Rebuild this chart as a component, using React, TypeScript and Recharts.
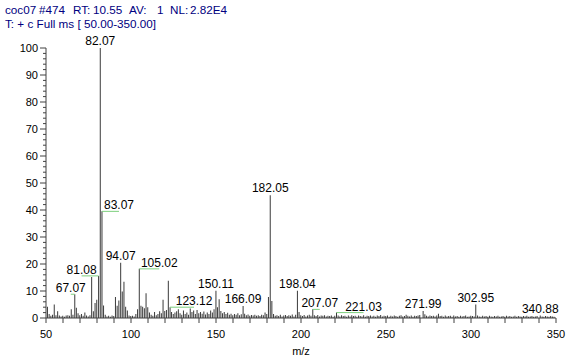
import { BarChart, Bar, XAxis, YAxis, LabelList } from 'recharts';

// header lines of the scan
const headerParts = [
  { text: 'coc07', x: 5 },
  { text: '#474', x: 39 },
  { text: 'RT:', x: 73 },
  { text: '10.55', x: 93 },
  { text: 'AV:', x: 129 },
  { text: '1', x: 157 },
  { text: 'NL:', x: 170 },
  { text: '2.82E4', x: 190 },
];
const scanFilter = 'T: + c Full ms [ 50.00-350.00]';

// [m/z, relative abundance %]
const sticksLow: [number, number][] = [
  [51, 4.2], [52, 1.5], [53, 0.8], [54, 1.2], [55, 5.0], [56, 1.0], [57, 2.5], [58, 0.9], [59, 0.6],
  [60, 0.8], [61, 0.5], [62, 0.9], [63, 1.0], [64, 0.8], [65, 3.2], [66, 1.2], [67.07, 8.8], [68, 3.8],
  [69, 1.8], [70, 1.0], [71, 1.5], [72, 0.8], [73, 2.0], [74, 0.9], [75, 0.6], [76, 1.0], [77, 15.2],
  [78, 2.5], [79, 5.6], [80, 6.8], [81.08, 15.6], [82.07, 100], [83.07, 39.5], [84, 4.6], [85, 1.2],
  [86, 0.6], [87, 0.8], [88, 0.5], [89, 0.9], [90, 0.7], [91, 7.8], [92, 4.5], [93, 6.5], [94.07, 20.5],
  [95, 9.8], [96, 13.4], [97, 4.2], [98, 2.8], [99, 0.9],
];

const sticksMid: [number, number][] = [
  [100, 0.7], [101, 0.8], [102, 0.6], [103, 1.5], [104, 3.2], [105.02, 18.2], [106, 4.5], [107, 4.2],
  [108, 3.6], [109, 9.2], [110, 4.0], [111, 2.0], [112, 1.2], [113, 0.8], [114, 2.2], [115, 1.0],
  [116, 1.5], [117, 2.5], [118, 1.8], [119, 6.8], [120, 2.6], [121, 3.0], [122.1, 13.8], [123.12, 4.0],
  [124, 2.2], [125, 1.5], [126, 2.0], [127, 2.5], [128, 3.2], [129, 1.8], [130, 1.2], [131, 2.8],
  [132, 1.5], [133, 2.0], [134, 1.2], [135, 3.5], [136, 2.2], [137, 2.8], [138, 1.5], [139, 3.0],
  [140, 1.8], [141, 2.2], [142, 1.6], [143, 2.4], [144, 1.3], [145, 2.0], [146, 1.5], [147, 2.8],
  [148, 2.0], [149, 3.2], [150.11, 10.1], [151, 4.0], [152, 6.9], [153, 2.6], [154, 1.8], [155, 2.2],
  [156, 1.5], [157, 1.9], [158, 1.2], [159, 1.6], [160, 1.0], [161, 1.5], [162, 1.2], [163, 1.8],
  [164, 1.0], [165, 1.4], [166.09, 4.4], [167, 1.6], [168, 1.0], [169, 1.3], [170, 0.8], [171, 1.1],
  [172, 0.9], [173, 1.2], [174, 0.8], [175, 1.0], [176, 0.7], [177, 1.2], [178, 1.0], [179, 2.0],
  [180, 1.5],
];

const sticksHigh: [number, number][] = [
  [181, 7.8], [182.05, 45.5], [183, 6.3], [184, 1.5], [185, 0.8], [186, 1.0], [187, 0.7], [188, 1.2],
  [189, 0.6], [190, 0.9], [191, 1.1], [192, 0.7], [193, 1.0], [194, 0.8], [195, 1.3], [196, 0.6],
  [197, 1.2], [198.04, 10.1], [199, 2.2], [200, 1.0], [201, 0.7], [202, 1.1], [203, 0.6], [204, 0.9],
  [205, 1.2], [206, 0.8], [207.07, 3.2], [208, 1.0], [209, 0.7], [210, 1.1], [211, 0.6], [212, 0.9],
  [213, 0.8], [214, 1.0], [215, 0.6], [216, 0.8], [217, 0.7], [218, 0.9], [219, 0.5], [220, 0.8],
  [221.03, 2.0], [222, 0.9], [223, 0.6], [224, 1.0], [225, 0.7], [226, 0.8], [227, 0.5], [228, 0.9],
  [229, 0.6], [230, 1.0], [231, 0.7], [232, 0.8], [233, 0.5], [234, 0.9], [235, 0.7], [236, 0.6],
  [237, 1.0], [238, 0.5], [239, 0.8], [240, 0.7], [241, 0.9], [242, 0.6], [243, 0.8], [244, 0.5],
  [245, 0.9], [246, 0.7], [247, 1.1], [248, 0.6], [249, 0.8], [250, 0.7], [251, 0.9], [252, 0.5],
  [253, 0.8], [254, 0.6], [255, 0.9], [256, 0.7], [257, 0.5], [258, 0.8], [259, 1.0], [260, 0.6],
  [261, 0.7], [262, 1.2], [263, 0.8], [264, 0.6], [265, 0.9], [266, 0.5], [267, 0.8], [268, 0.7],
  [269, 0.9], [270, 1.1], [271.99, 2.6], [273, 1.4], [274, 0.8], [275, 0.6], [276, 0.9], [277, 0.7],
  [278, 0.8], [279, 0.6], [280, 0.9], [281, 1.6], [282, 0.7], [283, 0.8], [284, 0.5], [285, 0.9],
  [286, 0.6], [287, 0.7], [288, 0.8], [289, 0.5], [290, 0.9], [291, 0.6], [292, 0.7], [293, 0.5],
  [294, 0.8], [295, 0.6], [296, 0.7], [297, 0.9], [298, 0.5], [299, 0.6], [300, 0.8], [301, 0.7],
  [302, 0.6], [302.95, 5.0], [304, 0.9], [305, 0.6], [306, 0.5], [307, 0.8], [308, 0.6], [309, 0.7],
  [310, 0.5], [311, 0.8], [312, 0.6], [313, 0.5], [314, 0.7], [315, 0.6], [316, 0.8], [317, 0.5],
  [318, 0.6], [319, 0.7], [320, 0.5], [321, 0.8], [322, 0.6], [323, 0.7], [324, 0.5], [325, 0.6],
  [326, 0.8], [327, 0.5], [328, 0.7], [329, 0.6], [330, 0.5], [331, 0.7], [332, 0.6], [333, 0.8],
  [334, 0.5], [335, 0.6], [336, 0.7], [337, 0.5], [338, 0.6], [339, 0.7], [340.88, 0.9], [342, 0.6],
  [343, 0.5], [344, 0.7], [345, 0.6], [346, 0.5], [347, 0.7], [348, 0.6], [349, 0.5],
];

const labeledMasses = [
  67.07, 81.08, 82.07, 83.07, 94.07, 105.02, 123.12, 150.11, 166.09, 182.05, 198.04, 207.07, 221.03,
  271.99, 302.95, 340.88,
];

const xTicks = [
  50, 60, 70, 80, 90, 100, 110, 120, 130, 140, 150, 160, 170, 180, 190, 200, 210, 220, 230, 240, 250,
  260, 270, 280, 290, 300, 310, 320, 330, 340, 350,
];
const xTickLabels = [50, 100, 150, 200, 250, 300, 350];
const yTicks = [
  0, 2, 4, 6, 8, 10, 12, 14, 16, 18, 20, 22, 24, 26, 28, 30, 32, 34, 36, 38, 40, 42, 44, 46, 48, 50,
  52, 54, 56, 58, 60, 62, 64, 66, 68, 70, 72, 74, 76, 78, 80, 82, 84, 86, 88, 90, 92, 94, 96, 98, 100,
];

const rows = [...sticksLow, ...sticksMid, ...sticksHigh].map(([mz, rel]) => ({
  mz,
  rel,
  tag: labeledMasses.includes(mz) ? mz.toFixed(2) : undefined,
}));

// labels pushed sideways get a green leader line back to the peak
const tagShift: Record<string, number> = {
  '67.07': -4,
  '81.08': -17,
  '83.07': 17,
  '105.02': 20,
  '123.12': 24,
  '207.07': 7,
  '221.03': 27,
};

const FONT = '"Liberation Sans", Arial, sans-serif';
const AXIS = '#404040';
const HEADER = '#000080';

const YTick = (props: any) => {
  const { x, y, payload } = props;
  const major = payload.value % 10 === 0;
  const ax = x + 8;
  return (
    <g>
      <line x1={ax - (major ? 6 : 3)} x2={ax} y1={y} y2={y} stroke={AXIS} />
      {major && (
        <text x={x} y={y} dy="0.35em" textAnchor="end" fontSize={11} fontFamily={FONT} fill="#000">
          {payload.value}
        </text>
      )}
    </g>
  );
};

const XTick = (props: any) => {
  const { x, y, payload } = props;
  const ay = y - 9;
  return (
    <g>
      <line x1={x} x2={x} y1={ay} y2={ay + 5} stroke={AXIS} />
      {xTickLabels.includes(payload.value) && (
        <text x={x} y={ay + 20} textAnchor="middle" fontSize={11} fontFamily={FONT} fill="#000">
          {payload.value}
        </text>
      )}
    </g>
  );
};

const PeakTag = (props: any) => {
  const { value } = props;
  if (!value) return null;
  const vb = props.viewBox ?? props;
  const px = vb.x + vb.width / 2;
  const top = vb.y;
  const shift = tagShift[value] ?? 0;
  if (!shift) {
    return (
      <text x={px} y={top - 3} textAnchor="middle" fontSize={12} fontFamily={FONT} fill="#000">
        {value}
      </text>
    );
  }
  return (
    <g>
      <line x1={px} x2={px + shift} y1={top} y2={top} stroke="#7ccf7c" />
      <text x={px + shift} y={top - 2} textAnchor="middle" fontSize={12} fontFamily={FONT} fill="#000">
        {value}
      </text>
    </g>
  );
};

const headerStyle = {
  position: 'absolute' as const,
  fontFamily: FONT,
  fontSize: 11.7,
  lineHeight: '14px',
  color: HEADER,
  whiteSpace: 'pre' as const,
};

export default function App() {
  return (
    <div style={{ position: 'absolute', left: 0, top: 0, width: 574, height: 362, background: '#fff' }}>
      {headerParts.map((p) => (
        <div key={p.text} style={{ ...headerStyle, left: p.x, top: 3 }}>
          {p.text}
        </div>
      ))}
      <div style={{ ...headerStyle, left: 5, top: 17 }}>{scanFilter}</div>
      <BarChart
        width={574}
        height={362}
        data={rows}
        margin={{ top: 48, right: 18, bottom: 14, left: 0 }}
        barCategoryGap={0}
      >
        <XAxis
          dataKey="mz"
          type="number"
          domain={[50, 350]}
          ticks={xTicks}
          interval={0}
          allowDataOverflow
          height={30}
          tickSize={5}
          tickMargin={4}
          tickLine={false}
          stroke={AXIS}
          tick={<XTick />}
          label={{ value: 'm/z', position: 'insideBottom', offset: -7, fontSize: 11, fontFamily: FONT, fill: '#000' }}
        />
        <YAxis
          type="number"
          domain={[0, 100]}
          ticks={yTicks}
          interval={0}
          allowDataOverflow
          width={46}
          tickSize={6}
          tickMargin={2}
          tickLine={false}
          stroke={AXIS}
          tick={<YTick />}
        />
        <Bar dataKey="rel" barSize={1} fill="#3a3a3a" isAnimationActive={false}>
          <LabelList dataKey="tag" content={<PeakTag />} />
        </Bar>
      </BarChart>
    </div>
  );
}
